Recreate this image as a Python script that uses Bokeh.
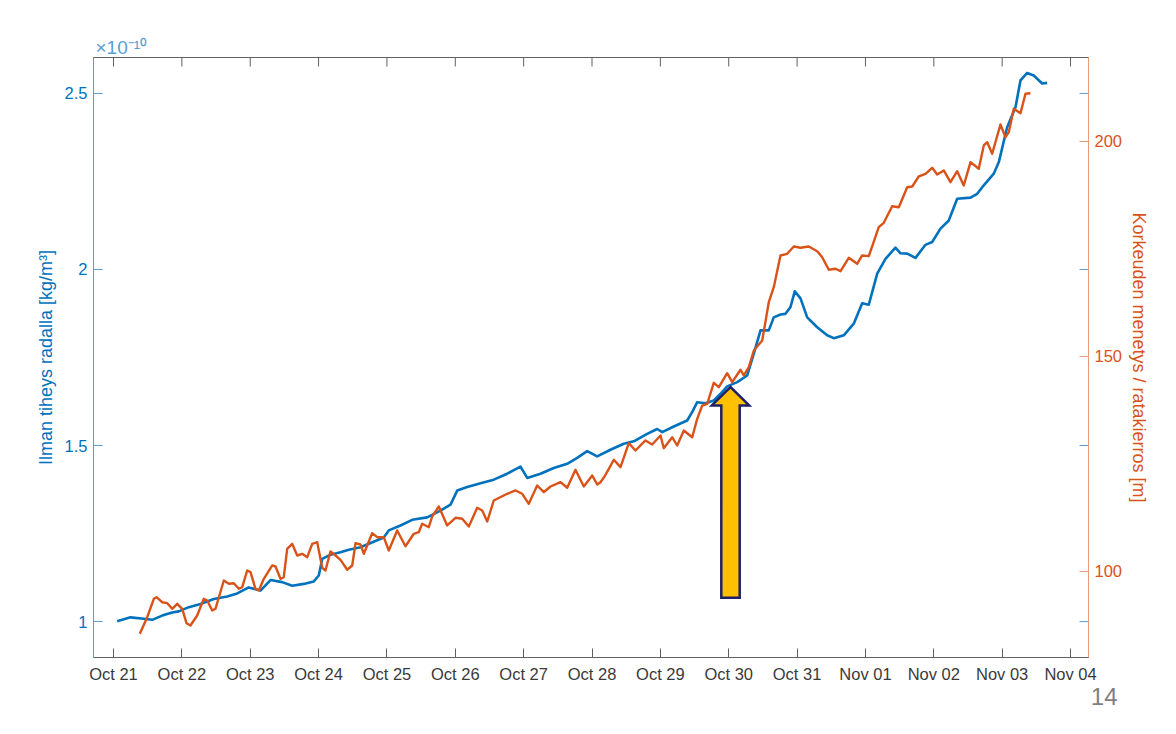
from bokeh.plotting import figure
from bokeh.models import Range1d, LinearAxis, FixedTicker, Title
from bokeh.embed import file_html
from bokeh.resources import INLINE

# ---------------- data ----------------
# x: days since Oct 21 00:00
x_tick_labels = ["Oct 21", "Oct 22", "Oct 23", "Oct 24", "Oct 25", "Oct 26", "Oct 27",
                 "Oct 28", "Oct 29", "Oct 30", "Oct 31", "Nov 01", "Nov 02", "Nov 03", "Nov 04"]
x_ticks = list(range(len(x_tick_labels)))

left_ticks = [1.0, 1.5, 2.0, 2.5]
left_tick_labels = ["1", "1.5", "2", "2.5"]
right_ticks = [100, 150, 200]

# air density on orbit [x1e-10 kg/m^3]
blue_day = [0.054, 0.249, 0.443, 0.566, 0.712, 0.859, 0.955, 1.102, 1.273, 1.467, 1.663, 1.810,
            1.979, 2.150, 2.297, 2.468, 2.614, 2.784, 2.930, 3.003, 3.053, 3.174, 3.320, 3.442,
            3.613, 3.954, 4.027, 4.198, 4.370, 4.589, 4.783, 4.930, 5.028, 5.174, 5.369, 5.563,
            5.759, 5.954, 6.052, 6.246, 6.441, 6.637, 6.783, 6.930, 7.076, 7.270, 7.465, 7.611,
            7.807, 7.953, 8.027, 8.196, 8.392, 8.465, 8.539, 8.660, 8.781, 8.880, 8.977, 9.124,
            9.270, 9.367, 9.465, 9.586, 9.659, 9.757, 9.830, 9.903, 9.966, 10.050, 10.148, 10.294,
            10.440, 10.537, 10.683, 10.829, 10.952, 11.049, 11.172, 11.293, 11.439, 11.513, 11.611,
            11.732, 11.878, 11.976, 12.098, 12.219, 12.342, 12.537, 12.635, 12.731, 12.877, 12.951,
            13.073, 13.195, 13.268, 13.366, 13.462, 13.585, 13.658]
blue_val = [1.001, 1.012, 1.008, 1.005, 1.017, 1.026, 1.029, 1.041, 1.050, 1.064, 1.071, 1.080,
            1.097, 1.088, 1.118, 1.112, 1.102, 1.107, 1.114, 1.131, 1.178, 1.190, 1.197, 1.204,
            1.211, 1.239, 1.259, 1.273, 1.289, 1.296, 1.315, 1.332, 1.372, 1.382, 1.393, 1.403,
            1.420, 1.440, 1.408, 1.420, 1.436, 1.448, 1.465, 1.484, 1.469, 1.488, 1.505, 1.512,
            1.533, 1.547, 1.538, 1.554, 1.571, 1.595, 1.623, 1.620, 1.628, 1.647, 1.668, 1.680,
            1.699, 1.761, 1.827, 1.827, 1.864, 1.872, 1.874, 1.893, 1.938, 1.918, 1.864, 1.836,
            1.813, 1.805, 1.813, 1.846, 1.904, 1.900, 1.988, 2.030, 2.062, 2.046, 2.045,
            2.033, 2.070, 2.078, 2.116, 2.139, 2.201, 2.204, 2.215, 2.239, 2.272, 2.305,
            2.404, 2.461, 2.537, 2.558, 2.551, 2.528, 2.530]

# altitude loss per orbit [m]
orange_day = [0.385, 0.493, 0.590, 0.629, 0.712, 0.786, 0.859, 0.932, 1.005, 1.068, 1.126, 1.224,
              1.321, 1.371, 1.444, 1.492, 1.614, 1.687, 1.760, 1.833, 1.883, 1.956, 2.004, 2.077,
              2.126, 2.199, 2.322, 2.370, 2.443, 2.491, 2.541, 2.614, 2.687, 2.760, 2.834, 2.907,
              2.980, 3.053, 3.101, 3.174, 3.248, 3.321, 3.419, 3.492, 3.540, 3.613, 3.662, 3.784,
              3.857, 3.954, 4.027, 4.150, 4.271, 4.393, 4.466, 4.516, 4.612, 4.662, 4.759, 4.881,
              5.003, 5.101, 5.198, 5.320, 5.394, 5.467, 5.563, 5.759, 5.881, 5.979, 6.075, 6.198,
              6.295, 6.393, 6.539, 6.637, 6.758, 6.880, 7.003, 7.076, 7.124, 7.183, 7.246, 7.319,
              7.417, 7.538, 7.636, 7.782, 7.880, 8.002, 8.050, 8.173, 8.246, 8.343, 8.466, 8.539,
              8.612, 8.685, 8.781, 8.855, 8.977, 9.051, 9.172, 9.220, 9.294, 9.367, 9.490, 9.586,
              9.659, 9.757, 9.855, 9.952, 10.050, 10.171, 10.294, 10.367, 10.464, 10.562, 10.635,
              10.756, 10.879, 10.952, 11.049, 11.195, 11.268, 11.391, 11.488, 11.611, 11.684,
              11.780, 11.878, 11.976, 12.050, 12.146, 12.244, 12.342, 12.438, 12.537, 12.658,
              12.731, 12.781, 12.854, 12.975, 13.049, 13.097, 13.170, 13.268, 13.341, 13.414]
orange_val = [85.51, 89.37, 93.65, 94.02, 92.86, 92.63, 91.33, 92.49, 91.33, 87.98, 87.44, 89.77,
              93.65, 93.26, 90.93, 91.33, 97.91, 97.14, 97.28, 95.98, 96.35, 100.23, 99.84, 95.98,
              95.58, 98.30, 101.40, 101.16, 98.30, 98.67, 105.28, 106.44, 103.72, 104.12, 103.33, 106.44,
              106.81, 100.86, 100.23, 104.65, 103.72, 102.72, 100.40, 101.40, 106.58, 106.28, 104.12, 108.91,
              107.98, 107.98, 104.88, 109.53, 105.88, 108.77, 109.14, 111.09, 110.30, 112.79, 115.12, 110.70,
              112.49, 112.26, 110.47, 114.81, 114.19, 111.63, 116.51, 118.07, 118.84, 118.07, 115.74, 120.00,
              118.44, 119.77, 120.77, 119.47, 123.65, 119.77, 122.33, 120.23, 120.77, 122.09, 123.88, 125.98,
              124.26, 129.84, 128.14, 130.47, 129.53, 131.63, 128.67, 131.23, 129.30, 132.79, 131.23, 135.51,
              138.60, 139.00, 143.88, 142.86, 146.12, 144.02, 146.91, 145.58, 147.51, 151.40, 153.72, 162.63,
              166.12, 173.49, 173.88, 175.58, 175.28, 175.58, 174.49, 173.09, 170.16, 170.40, 169.84,
              172.95, 171.56, 173.49, 173.33, 180.07, 181.09, 184.95, 184.72, 189.37, 189.53,
              191.86, 192.49, 193.88, 192.33, 193.26, 190.53, 193.09, 189.77, 195.19, 193.65,
              199.07, 199.84, 197.14, 203.95, 201.00, 202.16, 207.60, 206.58, 211.09, 211.23]

# annotation arrow (Oct 30)
arrow_day = 9.026
arrow_tip = 1.666
arrow_head_base = 1.614
arrow_base = 1.068

# ---------------- styling ----------------
BLUE = "#0072BD"
ORANGE = "#D95319"
BLUE_AX = "#5A9ED6"
ORANGE_AX = "#E99A78"
GRAY_AX = "#606060"
FONT = "Liberation Sans"

x_lo, x_hi = -0.2926, 14.263
y_lo, y_hi = 0.898, 2.602
FW, FH = 995, 600
px_per_day = FW / (x_hi - x_lo)
px_per_unit = FH / (y_hi - y_lo)

p = figure(frame_width=FW, frame_height=FH,
           min_border_left=93, min_border_right=80, min_border_top=57, min_border_bottom=69,
           x_range=Range1d(x_lo, x_hi), y_range=Range1d(y_lo, y_hi),
           output_backend="svg", toolbar_location=None, background_fill_color="white",
           border_fill_color="white")
p.extra_y_ranges = {"right": Range1d(80.0, 219.53)}
p.grid.visible = False
p.outline_line_color = GRAY_AX
p.outline_line_width = 1

# exponent marker of the left axis, as title
p.title.text = "×10⁻¹⁰"
p.title.align = "left"
p.title.offset = 2
p.title.standoff = 0
p.title.text_font = FONT
p.title.text_font_size = "19px"
p.title.text_font_style = "normal"
p.title.text_color = BLUE_AX

def style_common(ax, color, line_color):
    ax.major_tick_in = 9
    ax.major_tick_out = 0
    ax.minor_tick_line_color = None
    ax.axis_line_color = line_color
    ax.major_tick_line_color = line_color
    ax.major_label_text_color = color
    ax.major_label_text_font = FONT
    ax.major_label_text_font_size = "16.5px"
    ax.axis_label_text_color = color
    ax.axis_label_text_font = FONT
    ax.axis_label_text_font_size = "18px"
    ax.axis_label_text_font_style = "normal"

# bottom axis
xb = p.xaxis[0]
style_common(xb, "#3a3a3a", GRAY_AX)
xb.ticker = FixedTicker(ticks=x_ticks)
xb.major_label_overrides = {t: l for t, l in zip(x_ticks, x_tick_labels)}
xb.major_label_standoff = 7

# left axis
yl = p.yaxis[0]
style_common(yl, BLUE, BLUE_AX)
yl.ticker = FixedTicker(ticks=left_ticks)
yl.major_label_overrides = {t: l for t, l in zip(left_ticks, left_tick_labels)}
yl.axis_label = "Ilman tiheys radalla [kg/m³]"
yl.major_label_standoff = 6
yl.axis_label_standoff = 6

# right axis
yr = LinearAxis(y_range_name="right", ticker=FixedTicker(ticks=right_ticks))
style_common(yr, ORANGE, ORANGE_AX)
yr.axis_label = "Korkeuden menetys / ratakierros [m]"
yr.major_label_standoff = 6
yr.axis_label_standoff = 4
p.add_layout(yr, "right")

# top box ticks (gray, inward)
tick_len = 9
p.segment(x0=x_ticks, x1=x_ticks, y0=[y_hi] * len(x_ticks),
          y1=[y_hi - tick_len / px_per_unit] * len(x_ticks), line_color=GRAY_AX, line_width=1)
# left-axis ticks mirrored on the right edge (blue)
p.segment(x0=[x_hi - tick_len / px_per_day] * len(left_ticks), x1=[x_hi] * len(left_ticks),
          y0=left_ticks, y1=left_ticks, line_color=BLUE_AX, line_width=1)

# data lines
p.line(blue_day, blue_val, line_color=BLUE, line_width=2.6, line_join="round")
p.line(orange_day, orange_val, line_color=ORANGE, line_width=2.4, line_join="round",
       y_range_name="right")

# block arrow
shaft_hw = 9.2 / px_per_day
head_hw = 18.7 / px_per_day
ax_x = [arrow_day - shaft_hw, arrow_day - shaft_hw, arrow_day - head_hw, arrow_day,
        arrow_day + head_hw, arrow_day + shaft_hw, arrow_day + shaft_hw]
ax_y = [arrow_base, arrow_head_base, arrow_head_base, arrow_tip,
        arrow_head_base, arrow_head_base, arrow_base]
p.patch(ax_x, ax_y, fill_color="#FFC000", line_color="#1F2068", line_width=2.5,
        line_join="miter")

# slide page number
page_no = Title(text="14", align="right", offset=-29, standoff=0, text_font=FONT,
                text_font_size="24px", text_font_style="normal", text_color="#7F7F7F")
p.add_layout(page_no, "below")

open("out.html", "w").write(file_html(p, INLINE))
